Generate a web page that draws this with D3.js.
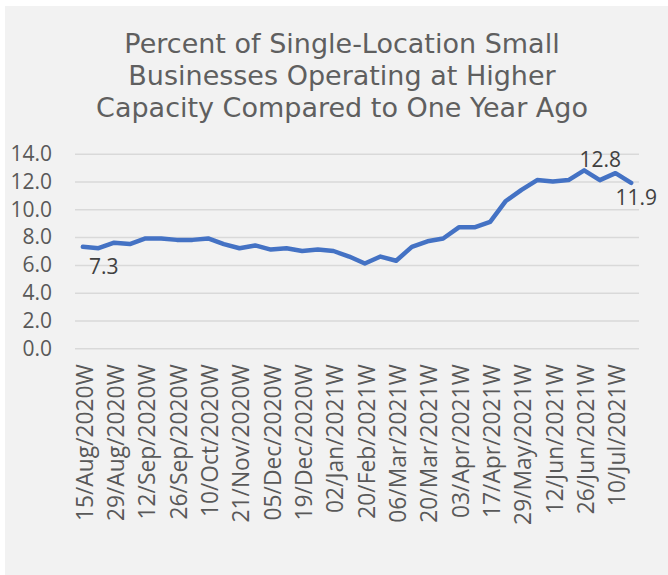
<!DOCTYPE html>
<html lang="en">
<head>
    <title>Single-Location Small Businesses</title>
    <script src="https://d3js.org/d3.v7.min.js" charset="utf-8"></script>
    <style type="text/css">
        body
        {
            margin: 0;
            background-color: white;
        }
        #chart_div
        {
            width: 668px;
            height: 575px;
        }
    </style>
</head>
<body>
    <div id="chart_div"></div>
    <script>
    "use strict";
    // weekly categories (every other one gets a label)
    var weeks = ["15/Aug/2020W", "22/Aug/2020W", "29/Aug/2020W", "05/Sep/2020W", "12/Sep/2020W", "19/Sep/2020W",
        "26/Sep/2020W", "03/Oct/2020W", "10/Oct/2020W", "14/Nov/2020W", "21/Nov/2020W", "28/Nov/2020W",
        "05/Dec/2020W", "12/Dec/2020W", "19/Dec/2020W", "26/Dec/2020W", "02/Jan/2021W", "13/Feb/2021W",
        "20/Feb/2021W", "27/Feb/2021W", "06/Mar/2021W", "13/Mar/2021W", "20/Mar/2021W", "27/Mar/2021W",
        "03/Apr/2021W", "10/Apr/2021W", "17/Apr/2021W", "22/May/2021W", "29/May/2021W", "05/Jun/2021W",
        "12/Jun/2021W", "19/Jun/2021W", "26/Jun/2021W", "03/Jul/2021W", "10/Jul/2021W", "17/Jul/2021W"];
    var percent = [7.3, 7.2, 7.6, 7.5, 7.9, 7.9, 7.8, 7.8, 7.9, 7.5, 7.2, 7.4,
        7.1, 7.2, 7.0, 7.1, 7.0, 6.6, 6.1, 6.6, 6.3, 7.3, 7.7, 7.9,
        8.7, 8.7, 9.1, 10.6, 11.4, 12.1, 12.0, 12.1, 12.8, 12.1, 12.6, 11.9];
    var y_ticks = [0, 2, 4, 6, 8, 10, 12, 14];
    var labelled_points = [0, 32, 35];
    var title_lines = ["Percent of Single-Location Small", "Businesses Operating at Higher", "Capacity Compared to One Year Ago"];

    var svg_width = 668;
    var svg_height = 575;
    var plot_left = 75, plot_right = 639, plot_top = 153.7, plot_bottom = 348.3;
    var text_grey = "#595959";

    var svg = d3.select("#chart_div")
        .append("svg")
        .attr("width", svg_width)
        .attr("height", svg_height);

    svg.append("rect")
        .attr("x", 5)
        .attr("y", 6)
        .attr("width", svg_width - 5)
        .attr("height", svg_height - 6)
        .attr("fill", "#f2f2f2");

    svg.append("g")
        .selectAll("text")
        .data(title_lines)
        .enter()
        .append("text")
        .attr("x", 342)
        .attr("y", (d, i) => 53 + i * 32)
        .attr("text-anchor", "middle")
        .style("font-family", "'DejaVu Sans', sans-serif")
        .style("font-size", "27px")
        .attr("fill", "#5f5f5f")
        .text(d => d);

    var x = d3.scalePoint()
        .domain(weeks)
        .range([plot_left, plot_right])
        .padding(0.5);
    var y = d3.scaleLinear()
        .domain([0, 14])
        .range([plot_bottom, plot_top]);

    // gridlines + y labels
    var y_axis = d3.axisLeft(y)
        .tickValues(y_ticks)
        .tickFormat(d3.format(".1f"))
        .tickSize(-(plot_right - plot_left))
        .tickPadding(23);
    var gy = svg.append("g")
        .attr("transform", "translate(" + plot_left + ",0)")
        .call(y_axis);
    gy.select(".domain").remove();
    gy.selectAll("line")
        .attr("stroke", "#d9d9d9")
        .attr("stroke-width", 1.5);
    gy.selectAll("text")
        .attr("fill", text_grey)
        .style("font-family", "'Open Sans', sans-serif")
        .style("font-size", "21px");

    // x labels, rotated
    var x_axis = d3.axisBottom(x)
        .tickValues(weeks.filter((d, i) => i % 2 == 0))
        .tickSize(0)
        .tickPadding(0);
    var gx = svg.append("g")
        .attr("transform", "translate(0," + plot_bottom + ")")
        .call(x_axis);
    gx.select(".domain").remove();
    gx.selectAll("text")
        .attr("transform", "rotate(-90)")
        .attr("x", -16)
        .attr("y", 1.5)
        .attr("dy", "0.35em")
        .attr("text-anchor", "end")
        .attr("fill", text_grey)
        .style("font-family", "'Open Sans', sans-serif")
        .style("font-size", "22.8px");

    var line = d3.line()
        .x((d, i) => x(weeks[i]))
        .y(d => y(d));
    svg.append("path")
        .datum(percent)
        .attr("d", line)
        .attr("fill", "none")
        .attr("stroke", "#4472c4")
        .attr("stroke-width", 4.5)
        .attr("stroke-linejoin", "round")
        .attr("stroke-linecap", "round");

    // data labels
    var label_offsets = {0: [21, 27], 32: [16, -3], 35: [5, 22]};
    svg.append("g")
        .selectAll("text")
        .data(labelled_points)
        .enter()
        .append("text")
        .attr("x", d => x(weeks[d]) + label_offsets[d][0])
        .attr("y", d => y(percent[d]) + label_offsets[d][1])
        .attr("text-anchor", "middle")
        .attr("fill", "#404040")
        .style("font-family", "'Open Sans', sans-serif")
        .style("font-size", "21px")
        .text(d => d3.format(".1f")(percent[d]));
    </script>
</body>
</html>
